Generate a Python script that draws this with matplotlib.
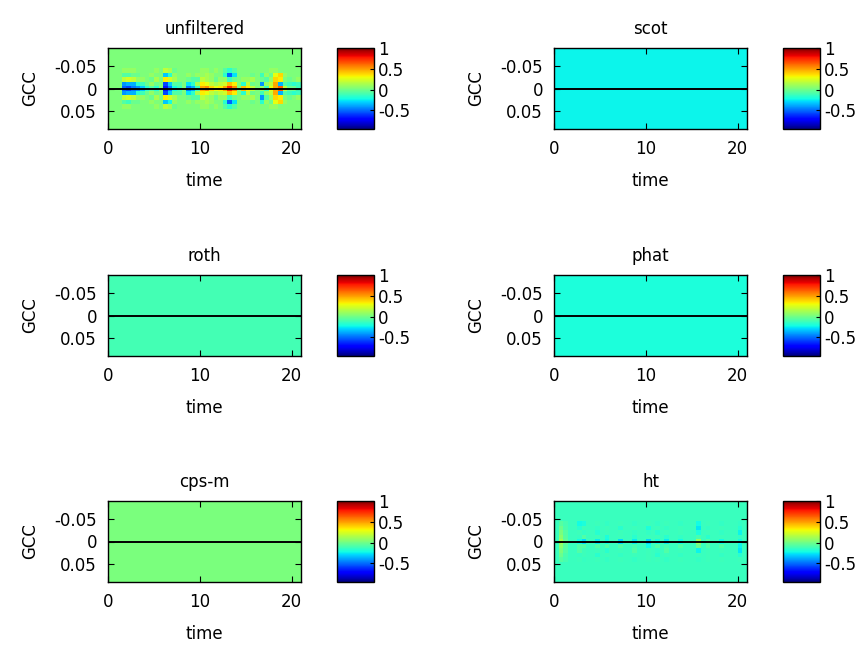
import numpy as np
import matplotlib
matplotlib.use('Agg')
import matplotlib.pyplot as plt

plt.rcParams['font.family'] = ['DejaVu Sans']
plt.rcParams['axes.unicode_minus'] = False

# ---------------- data ----------------
titles = ['unfiltered', 'scot', 'roth', 'phat', 'cps-m', 'ht']
background_levels = [0.03, -0.235, -0.11, -0.20, 0.02, -0.13]

time_max = 21.0
time_step = 0.5
lag_max = 0.09
lag_step = 0.01
window_lags = [-0.04, -0.03, -0.02, -0.01, 0.0, 0.01, 0.02, 0.03, 0.04]

clim = (-0.95, 1.0)
xticks = [0, 10, 20]
yticks = [-0.05, 0, 0.05]
ytick_labels = ['-0.05', '0', '0.05']
cbar_ticks = [-0.5, 0, 0.5, 1]
cbar_tick_labels = ['-0.5', '0', '0.5', '1']

# unfiltered GCC: time-bin start and deviations from background at window_lags
unf_times = [1.5, 2.0, 2.5, 3.0, 3.5, 4.0, 4.5, 5.0, 6.0, 6.5, 7.0, 7.5,
             8.5, 9.0, 9.5, 10.0, 10.5, 11.0, 11.5, 12.0, 12.5, 13.0, 13.5,
             14.5, 15.0, 15.5, 16.5, 17.0, 17.5, 18.0, 18.5, 19.0, 19.5,
             20.0, 20.5]
unf_values = [
    [0.05, -0.10, 0.15, -0.45, -0.55, -0.45, 0.15, -0.10, 0.05],
    [0.05, -0.10, 0.20, -0.40, -0.60, -0.40, 0.20, -0.15, 0.05],
    [0.05, -0.05, 0.15, -0.40, -0.50, -0.40, 0.15, -0.05, 0.00],
    [0.00, -0.05, 0.05, -0.20, -0.45, -0.20, 0.05, -0.05, 0.00],
    [0.00, 0.00, 0.05, -0.15, -0.35, -0.15, 0.05, 0.00, 0.00],
    [0.00, 0.00, 0.00, -0.05, -0.20, -0.05, 0.00, 0.00, 0.00],
    [0.00, 0.05, -0.05, 0.05, -0.10, 0.05, -0.05, 0.05, 0.00],
    [0.05, 0.00, 0.10, -0.05, -0.20, -0.05, 0.10, 0.00, 0.05],
    [0.15, -0.35, 0.30, -0.60, -0.70, -0.60, 0.30, -0.35, 0.15],
    [0.10, -0.20, 0.20, -0.35, -0.50, -0.35, 0.20, -0.25, 0.10],
    [-0.05, 0.05, 0.10, -0.10, -0.25, -0.10, 0.10, 0.05, -0.05],
    [0.00, 0.00, 0.00, -0.10, -0.15, -0.10, 0.00, 0.00, 0.00],
    [0.00, 0.05, -0.05, -0.30, -0.50, -0.30, -0.05, 0.05, 0.00],
    [0.00, 0.00, -0.10, -0.20, -0.40, -0.20, -0.10, 0.00, 0.00],
    [0.00, 0.05, -0.10, 0.10, -0.15, 0.10, -0.10, 0.05, 0.00],
    [0.05, 0.05, 0.15, 0.30, 0.45, 0.30, 0.15, 0.05, 0.05],
    [0.05, 0.10, 0.10, 0.25, 0.50, 0.25, 0.10, 0.10, 0.05],
    [0.00, 0.05, 0.05, 0.15, 0.35, 0.15, 0.05, 0.05, 0.00],
    [0.05, 0.00, -0.05, 0.10, 0.25, 0.10, -0.05, 0.00, 0.05],
    [0.00, 0.00, 0.05, 0.15, 0.30, 0.15, 0.05, 0.00, 0.00],
    [-0.10, -0.20, 0.05, 0.20, 0.45, 0.20, 0.05, -0.20, -0.10],
    [-0.20, -0.55, -0.15, 0.40, 0.70, 0.40, -0.15, -0.55, -0.20],
    [-0.10, -0.30, -0.05, 0.30, 0.50, 0.30, -0.05, -0.30, -0.10],
    [0.00, 0.00, 0.05, -0.20, 0.40, -0.20, 0.05, 0.00, 0.00],
    [0.00, 0.00, 0.05, 0.15, 0.30, 0.15, 0.05, 0.00, 0.00],
    [0.00, -0.05, 0.10, -0.05, 0.15, -0.05, 0.10, -0.05, 0.00],
    [0.00, -0.15, -0.05, -0.45, 0.05, -0.15, -0.45, -0.20, 0.00],
    [0.00, 0.05, -0.10, 0.05, -0.15, 0.05, -0.10, 0.05, 0.00],
    [0.05, -0.05, 0.05, 0.15, 0.25, 0.15, 0.05, -0.05, 0.05],
    [0.05, 0.25, 0.35, 0.45, 0.45, 0.45, 0.35, 0.25, 0.05],
    [0.00, 0.35, 0.30, -0.40, 0.60, -0.40, 0.30, 0.35, 0.00],
    [0.00, 0.05, 0.00, -0.10, 0.15, -0.10, 0.00, 0.05, 0.00],
    [0.00, 0.00, -0.05, -0.15, -0.05, -0.15, -0.05, 0.00, 0.00],
    [0.00, 0.00, 0.00, -0.20, -0.05, -0.20, 0.00, 0.00, 0.00],
    [0.00, 0.00, 0.05, -0.15, -0.15, -0.15, 0.05, 0.00, 0.00],
]

# ht GCC: time-bin start and values at window_lags
ht_times = [0.5, 1.0, 2.5, 3.0, 4.5, 5.5, 7.0, 8.5, 10.0, 11.0, 12.0,
            13.5, 15.5, 16.5, 18.0, 20.0]
ht_values = [
    [-0.06, -0.02, 0.02, 0.06, 0.12, 0.06, 0.02, -0.02, -0.06],
    [-0.10, -0.09, -0.07, -0.06, -0.04, -0.06, -0.07, -0.09, -0.10],
    [-0.22, -0.17, -0.12, -0.14, -0.22, -0.08, -0.08, -0.14, -0.12],
    [-0.20, -0.12, -0.15, -0.08, -0.28, -0.08, -0.12, -0.12, -0.14],
    [-0.12, -0.15, -0.18, -0.12, -0.25, -0.08, -0.12, -0.17, -0.12],
    [-0.15, -0.12, -0.12, -0.20, -0.22, -0.08, -0.17, -0.12, -0.15],
    [-0.12, -0.17, -0.12, -0.12, -0.28, -0.08, -0.12, -0.15, -0.12],
    [-0.15, -0.12, -0.15, -0.17, -0.25, -0.10, -0.08, -0.12, -0.15],
    [-0.12, -0.20, -0.15, -0.12, -0.30, -0.22, -0.12, -0.12, -0.12],
    [-0.15, -0.12, -0.17, -0.12, -0.22, -0.08, -0.15, -0.17, -0.12],
    [-0.12, -0.15, -0.12, -0.17, -0.25, -0.10, -0.08, -0.12, -0.15],
    [-0.15, -0.12, -0.12, -0.15, -0.22, -0.08, -0.12, -0.15, -0.12],
    [-0.22, -0.26, -0.20, -0.10, 0.10, -0.02, -0.24, -0.12, -0.15],
    [-0.12, -0.15, -0.12, -0.17, -0.08, -0.08, -0.12, -0.12, -0.12],
    [-0.15, -0.12, -0.15, -0.12, -0.22, -0.08, -0.12, -0.15, -0.12],
    [-0.15, -0.18, -0.24, -0.15, -0.22, -0.24, -0.26, -0.18, -0.12],
]

# ---------------- grids ----------------
n_t = int(round(time_max / time_step))
n_lag = int(round(2 * lag_max / lag_step)) + 1
t_edges = np.linspace(0, time_max, n_t + 1)
lag_centers = np.round(np.linspace(-lag_max, lag_max, n_lag), 3)
lag_edges = np.concatenate([lag_centers - lag_step / 2,
                            [lag_centers[-1] + lag_step / 2]])


def build_grid(idx):
    bg = background_levels[idx]
    g = np.full((n_lag, n_t), bg, dtype=float)
    if idx == 0:
        times, vals, relative = unf_times, unf_values, True
    elif idx == 5:
        times, vals, relative = ht_times, ht_values, False
    else:
        return g
    for t, v in zip(times, vals):
        c = min(int(round(t / time_step)), n_t - 1)
        for lg, val in zip(window_lags, v):
            r = int(np.argmin(np.abs(lag_centers - lg)))
            g[r, c] = bg + val if relative else val
    return g


# ---------------- layout ----------------
W, H = 864, 645
fig = plt.figure(figsize=(W / 100, H / 100), dpi=100)

col_x = [108, 554]
cbar_x = [337, 783]
row_top = [48, 275, 501]
ax_w, ax_h = 193, 81
cb_w = 37
fs = 12

for i, title in enumerate(titles):
    r, c = divmod(i, 2)
    x0 = col_x[c] / W
    y0 = 1 - (row_top[r] + ax_h) / H
    ax = fig.add_axes([x0, y0, ax_w / W, ax_h / H])
    grid = build_grid(i)
    im = ax.pcolormesh(t_edges, lag_edges, grid, cmap='jet',
                       vmin=clim[0], vmax=clim[1], shading='flat')
    ax.axhline(0, color='black', lw=1.4)
    ax.set_xlim(0, time_max)
    ax.set_ylim(lag_max, -lag_max)
    ax.set_xticks(xticks)
    ax.set_xticklabels([str(v) for v in xticks])
    ax.set_yticks(yticks)
    ax.set_yticklabels(ytick_labels)
    ax.tick_params(direction='in', top=True, right=True, length=4,
                   width=0.8, labelsize=fs, pad=8)
    for s in ax.spines.values():
        s.set_linewidth(1.0)
        s.set_color('black')
    ax.set_title(title, fontsize=fs, pad=10)
    ax.set_xlabel('time', fontsize=fs, labelpad=10)
    ax.set_ylabel('GCC', fontsize=fs, labelpad=11)

    cax = fig.add_axes([cbar_x[c] / W, y0, cb_w / W, ax_h / H])
    cb = fig.colorbar(im, cax=cax, ticks=cbar_ticks)
    cb.ax.set_yticklabels(cbar_tick_labels)
    cb.ax.tick_params(direction='in', length=3, width=0.8, labelsize=fs, pad=3)
    cb.outline.set_linewidth(1.0)

fig.savefig('out.png', dpi=100, facecolor='white')
